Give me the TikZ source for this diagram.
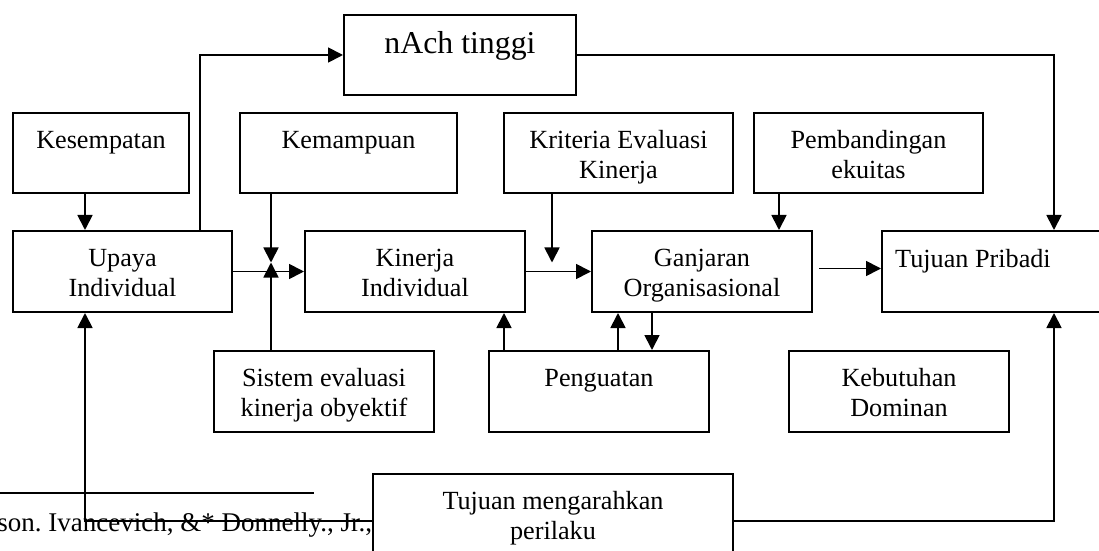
\documentclass[tikz,border=0pt]{standalone}
\usepackage{fontspec}
\setmainfont{Liberation Serif}
\usetikzlibrary{arrows.meta,calc,fit}
\begin{document}
\begin{tikzpicture}[x=0.5pt,y=-0.5pt,
  box/.style={draw,line width=1pt,inner sep=0pt,fit={#1}},
  lbl/.style={anchor=base,align=center,inner sep=0pt,font=\fontsize{13.1}{15}\selectfont},
  biglbl/.style={anchor=base,align=center,inner sep=0pt,font=\fontsize{15.9}{19}\selectfont},
  arr/.style={line width=0.9pt,-{Triangle[length=7.5pt,width=7.5pt]}},
  ln/.style={line width=1pt}]
\useasboundingbox (0,0) rectangle (1099,551);
\clip (0,0) rectangle (1099,551);
% boxes
\node[box={(344,15) (576,95)}] (nach) {};
\node[box={(13,113) (189,193)}] (kes) {};
\node[box={(240,113) (457,193)}] (kem) {};
\node[box={(504,113) (733,193)}] (kri) {};
\node[box={(754,113) (983,193)}] (pem) {};
\node[box={(13,231) (232,312)}] (upa) {};
\node[box={(305,231) (525,312)}] (kin) {};
\node[box={(592,231) (812,312)}] (gan) {};
\node[box={(882,231) (1130,312)}] (tpr) {};
\node[box={(214,351) (434,432)}] (sis) {};
\node[box={(489,351) (709,432)}] (pen) {};
\node[box={(789,351) (1009,432)}] (keb) {};
\node[box={(373,474) (733,580)}] (tma) {};
% labels (multi-line labels: base anchor is on the last line)
\node[biglbl] (nachl) at ($(nach.north)+(0,40)$) {nAch tinggi};
\node[lbl] (kesl) at ($(kes.north)+(0,37)$) {Kesempatan};
\node[lbl] (keml) at ($(kem.north)+(0,37)$) {Kemampuan};
\node[lbl] (kril) at ($(kri.north)+(0,67)$) {Kriteria Evaluasi\\Kinerja};
\node[lbl] (peml) at ($(pem.north)+(0,67)$) {Pembandingan\\ekuitas};
\node[lbl] (upal) at ($(upa.north)+(0,66)$) {Upaya\\Individual};
\node[lbl] (kinl) at ($(kin.north)+(0,66)$) {Kinerja\\Individual};
\node[lbl] (ganl) at ($(gan.north)+(0,66)$) {Ganjaran\\Organisasional};
\node[lbl] (tprl) at (973,267) {Tujuan Pribadi};
\node[lbl] (sisl) at ($(sis.north)+(0,66)$) {Sistem evaluasi\\kinerja obyektif};
\node[lbl] (penl) at ($(pen.north)+(0,36)$) {Penguatan};
\node[lbl] (kebl) at ($(keb.north)+(0,66)$) {Kebutuhan\\Dominan};
\node[lbl] (tmal) at ($(tma.north)+(0,66)$) {Tujuan mengarahkan\\perilaku};
% footnote
\draw[ln] (0,493) -- (314,493);
\node[lbl,anchor=base west,font=\fontsize{13.5}{15}\selectfont] (foot) at (-3,531) {\frenchspacing son. Ivancevich, \&* Donnelly., Jr.,};
% connectors
\draw[arr] ($(upa.north west)+(188,0)$) |- (nach.west);
\draw[arr] (nach.east) -| ($(tpr.north west)+(173,0)$);
\draw[arr] ($(kes.south west)+(73,0)$) -- ($(upa.north west)+(73,0)$);
\draw[arr] (upa.east) -- (kin.west);
\path ($(kem.south west)+(32,0)$) coordinate (ktop);
\coordinate (j1) at (ktop |- upa.east);
\draw[arr] (ktop) -- ($(j1)+(0,-9)$);
\draw[arr] (sis.north -| ktop) -- ($(j1)+(0,-9)$);
\draw[arr] (kin.east) -- (gan.west);
\path ($(kri.south west)+(49,0)$) coordinate (krb);
\draw[arr] (krb) -- ($(krb |- kin.east)+(0,-9)$);
\draw[arr] ($(pem.south west)+(26,0)$) -- ($(gan.north west)+(188,0)$);
\draw[arr] ($(gan.east)+(6,-3)$) -- ($(tpr.west)+(0,-3)$);
\draw[arr] ($(pen.north west)+(16,0)$) -- ($(kin.south west)+(200,0)$);
\draw[arr] ($(pen.north west)+(130,0)$) -- ($(gan.south west)+(27,0)$);
\draw[arr] ($(gan.south west)+(61,0)$) -- ($(pen.north west)+(164,0)$);
\draw[arr] ($(tma.north west)+(0,48)$) -| ($(upa.south west)+(73,0)$);
\draw[arr] ($(tma.north east)+(0,48)$) -| ($(tpr.south west)+(173,0)$);
\end{tikzpicture}
\end{document}
